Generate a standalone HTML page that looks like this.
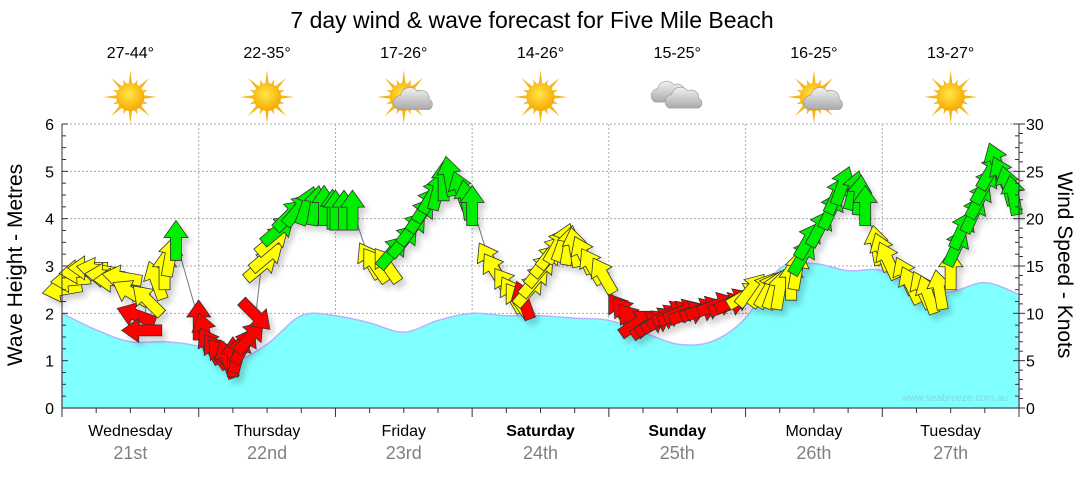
<!DOCTYPE html>
<html><head><meta charset="utf-8">
<style>
html,body{margin:0;padding:0;background:#fff;}
body{width:1080px;height:475px;overflow:hidden;font-family:"Liberation Sans",sans-serif;}
svg text{font-family:"Liberation Sans",sans-serif;}
</style></head>
<body>
<svg id="chart" width="1080" height="475" viewBox="0 0 1080 475">
<defs>
<radialGradient id="sunG" cx="45%" cy="40%" r="60%"><stop offset="0" stop-color="#ffe84a"/><stop offset="1" stop-color="#f7a800"/></radialGradient>
<linearGradient id="cloudG" x1="0" y1="0" x2="0" y2="1"><stop offset="0" stop-color="#f2f2f2"/><stop offset="1" stop-color="#a9a9a9"/></linearGradient>
<filter id="shd" x="-50%" y="-50%" width="200%" height="200%"><feGaussianBlur in="SourceAlpha" stdDeviation="3"/><feOffset dx="4" dy="5"/><feComponentTransfer><feFuncA type="linear" slope="0.18"/></feComponentTransfer><feMerge><feMergeNode/><feMergeNode in="SourceGraphic"/></feMerge></filter>
</defs>
<text x="532" y="28" font-size="23" text-anchor="middle" fill="#000">7 day wind &amp; wave forecast for Five Mile Beach</text>
<g id="grid"></g>
<g id="wave"></g>
<g id="wind"></g>
<g id="axes"></g>
<g id="weather"></g>
<text x="955" y="401" font-size="10" fill="#7fd8e0" text-anchor="middle">www.seabreeze.com.au</text>
<text transform="translate(22,265) rotate(-90)" font-size="21" text-anchor="middle">Wave Height - Metres</text>
<text transform="translate(1058,265) rotate(90)" font-size="21" text-anchor="middle">Wind Speed - Knots</text>
</svg>
<script>
const days = ["Wednesday","Thursday","Friday","Saturday","Sunday","Monday","Tuesday"];
const dates = ["21st","22nd","23rd","24th","25th","26th","27th"];
const boldDays = [false,false,false,true,true,false,false];
const temps = ["27-44°","22-35°","17-26°","14-26°","15-25°","16-25°","13-27°"];
const weather = ["sun","sun","suncloud","sun","cloud","suncloud","sun"];
const waveTicks = [0,1,2,3,4,5,6];
const windTicks = [0,5,10,15,20,25,30];
// wave height (m) every 6 hours
const waveHours = [0,6,12,18,24,30,36,42,48,54,60,66,72,78,84,90,96,102,108,114,120,126,132,138,144,150,156,162,168];
const waveHeight = [2.0,1.65,1.4,1.4,1.3,1.0,1.35,1.95,1.95,1.8,1.6,1.85,2.0,1.95,1.95,1.9,1.85,1.6,1.35,1.4,1.9,2.95,3.05,2.9,2.9,2.5,2.45,2.65,2.4];
// wind
const windHours = [0,1.5,3,4.5,6,7.5,9,10.5,12,13,14,15,16.5,18,19,20,24,25,26,27,28,29,30,31,32,33,34,35,36,37,38,40,41.5,43,44.5,46,47.5,48,49.5,51,54,55,57,58,60,61.5,63,64,65,66,67,68,70,71,72,75,76,78,79,80,81,82,83,84,85,86,87,88,89,90,91.5,93,95,98,99,100,101,103,104,105,106,107,108,109,110,112,113,115,117,118,120,121,123,124,125,126,128,129,130,131,133,135,136,137,139,140,141,143,144,145,148,149,151,152,154,156,157,158,160,161,162,163,164,165,166,167];
const windSpeed = [12.5,13.5,14.4,14.8,14.6,14.0,13.5,13.8,12.2,9.8,8.2,11.4,13.5,14.6,16.0,17.7,9.3,8.0,6.6,6.0,5.6,5.2,5.4,5.8,6.6,7.5,9.8,15.0,16.0,17.7,18.8,20.4,21.0,21.4,21.4,21.4,21.0,20.9,20.9,20.9,15.6,15.1,15.1,16.5,17.7,19.0,20.4,21.5,22.5,23.0,24.0,24.5,23.0,22.0,21.4,15.6,14.5,13.0,12.0,11.4,11.4,12.5,13.5,14.6,15.6,16.5,17.2,17.5,17.2,17.0,16.2,15.0,14.0,10.3,10.0,9.3,9.0,8.8,9.0,9.3,9.6,10.0,10.0,10.2,10.0,10.3,10.5,10.9,10.9,11.3,11.9,12.5,12.5,12.5,12.5,12.5,13.5,14.6,16.0,17.7,19.0,20.9,22.5,23.5,23.0,22.5,21.4,17.2,16.5,15.6,14.0,13.0,12.5,12.0,12.5,14.6,17.0,18.8,20.5,22.0,23.5,25.0,26.0,24.6,23.5,22.5,22.0];
const windDir = [-100,-95,-95,-90,-80,-85,-90,-80,-60,-70,-90,-45,-20,0,10,0,0,-15,-30,-35,-40,-20,0,15,30,40,135,50,50,50,50,45,40,20,10,0,0,0,0,0,-30,-35,-35,40,40,38,35,32,30,15,0,-10,-20,-10,0,-30,-32,-35,-30,-35,-20,40,40,40,40,38,30,20,10,-10,-25,-30,-30,-35,-40,-40,55,55,60,60,62,65,65,68,70,70,70,70,70,65,60,40,35,30,20,10,0,10,30,30,28,25,25,20,15,5,0,-10,-20,-25,-25,-25,-25,-20,-10,0,25,25,25,28,30,30,-20,-25,-15,-10,0];
const windCol = ["y","y","y","y","y","y","y","y","y","r","r","y","y","y","y","g","r","r","r","r","r","r","r","r","r","r","r","y","y","y","g","g","g","g","g","g","g","g","g","g","y","y","y","g","g","g","g","g","g","g","g","g","g","g","g","y","y","y","y","y","r","y","y","y","y","y","y","y","y","y","y","y","y","r","r","r","r","r","r","r","r","r","r","r","r","r","r","r","r","r","y","y","y","y","y","y","y","y","g","g","g","g","g","g","g","g","g","y","y","y","y","y","y","y","y","y","g","g","g","g","g","g","g","g","g","g","g"];
</script>
<script>
const NS="http://www.w3.org/2000/svg";
const X0=62,X1=1019,Y0=408,Y1=124;
const xH=h=>X0+(X1-X0)*h/168;
const yW=m=>Y0-(Y0-Y1)*m/6;
const yK=k=>Y0-(Y0-Y1)*k/30;
function mk(tag,attrs,parent){const e=document.createElementNS(NS,tag);for(const k in attrs)e.setAttribute(k,attrs[k]);parent.appendChild(e);return e;}
const grid=document.getElementById('grid'),axes=document.getElementById('axes');
waveTicks.forEach((t,i)=>{
  if(t>0){const l=mk('line',{x1:X0,x2:X1,y1:yW(t),y2:yW(t),stroke:'#aaa','stroke-dasharray':'2,2'},grid);
  
  }
  const tx=mk('text',{x:X0-8,y:yW(t)+6,'font-size':16,'text-anchor':'end'},axes);tx.textContent=t;
  
  
});
windTicks.forEach(t=>{
  const tx=mk('text',{x:X1+7,y:yK(t)+6,'font-size':16},axes);tx.textContent=t;
  
  
});
for(let i=0;i<=24;i++){const y=Y0-(Y0-Y1)*i/24;const w=(i%4==0)?6:4;
  mk('line',{x1:X0,x2:X0+w,y1:y,y2:y,stroke:'#333'},axes);
  mk('line',{x1:X1-w,x2:X1,y1:y,y2:y,stroke:'#333'},axes);}
for(let i=0;i<=30;i++){const y=yK(i);const w=(i%5==0)?6:4;mk('line',{x1:X1,x2:X1+w,y1:y,y2:y,stroke:'#333'},axes);}
mk('line',{x1:X0,x2:X0,y1:Y1,y2:Y0,stroke:'#333'},axes);
mk('line',{x1:X1,x2:X1,y1:Y1,y2:Y0,stroke:'#333'},axes);
for(let d=0;d<7;d++){
  if(d>0){const l=mk('line',{x1:xH(d*24),x2:xH(d*24),y1:Y1,y2:Y0,stroke:'#aaa','stroke-dasharray':'2,2'},grid);
  
  }
  for(let q=0;q<4;q++){const x=xH(d*24+q*6);mk('line',{x1:x,x2:x,y1:Y0,y2:Y0+(q==0?9:5),stroke:'#333'},axes);}
  const cx=xH(d*24+12);
  const t1=mk('text',{x:cx,y:436,'font-size':16,'text-anchor':'middle','font-weight':boldDays[d]?'bold':'normal'},axes);t1.textContent=days[d];
  
  
  const t2=mk('text',{x:cx,y:459,'font-size':18,'text-anchor':'middle',fill:'#808080'},axes);t2.textContent=dates[d];
  
  
  const t3=mk('text',{x:cx,y:58,'font-size':16,'text-anchor':'middle'},document.getElementById('weather'));t3.textContent=temps[d];
  
  
  drawIcon(weather[d],cx,97);
}
mk('line',{x1:X0,x2:X1,y1:Y0,y2:Y0,stroke:'#333'},axes);
mk('line',{x1:X1,x2:X1,y1:Y0,y2:Y0+9,stroke:'#333'},axes);
function drawIcon(kind,cx,cy){
  const g=mk('g',{},document.getElementById('weather'));
  
  
  if(kind!=='cloud'){
    for(let a=0;a<16;a++){const ang=a*Math.PI/8;const r=a%2?19:27;
      const p=[[cx+Math.cos(ang)*r,cy+Math.sin(ang)*r],[cx+Math.cos(ang+0.16)*12,cy+Math.sin(ang+0.16)*12],[cx+Math.cos(ang-0.16)*12,cy+Math.sin(ang-0.16)*12]];
      mk('polygon',{points:p.map(v=>v.join(',')).join(' '),fill:'#f5b51c'},g);}
    mk('circle',{cx:cx,cy:cy,r:14,fill:'url(#sunG)'},g);
  }
  if(kind==='suncloud'){cloud(g,cx+10,cy+4,0.95);}
  if(kind==='cloud'){cloud(g,cx-7,cy-3,0.9);cloud(g,cx+7,cy+3,0.9);}
}
function cloud(g,x,y,s){
  const p=`M${x-17*s},${y+9*s} a${8*s},${8*s} 0 0 1 ${3*s},${-15*s} a${10*s},${10*s} 0 0 1 ${18*s},${-4*s} a${8*s},${8*s} 0 0 1 ${12*s},${8*s} a${6*s},${6*s} 0 0 1 ${0},${11*s} z`;
  mk('path',{d:p,fill:'url(#cloudG)',stroke:'#999','stroke-width':0.6},g);
}
// wave (smooth)
const pts=waveHours.map((h,i)=>[xH(h),yW(waveHeight[i])]);
let d=`M${pts[0][0]},${Y0} L${pts[0][0]},${pts[0][1]}`;
for(let i=0;i<pts.length-1;i++){
  const p0=pts[Math.max(0,i-1)],p1=pts[i],p2=pts[i+1],p3=pts[Math.min(pts.length-1,i+2)];
  const c1=[p1[0]+(p2[0]-p0[0])/6,p1[1]+(p2[1]-p0[1])/6],c2=[p2[0]-(p3[0]-p1[0])/6,p2[1]-(p3[1]-p1[1])/6];
  d+=` C${c1[0]},${c1[1]} ${c2[0]},${c2[1]} ${p2[0]},${p2[1]}`;
}
d+=` L${pts[pts.length-1][0]},${Y0} Z`;
const wa=mk('path',{d:d,fill:'#80ffff',stroke:'#b5b5ff','stroke-width':1.5,'stroke-linejoin':'round'},document.getElementById('wave'));


// wind
const wg=document.getElementById('wind');
let ld='';
windHours.forEach((h,i)=>{ld+=(i?' L':'M')+xH(h)+','+yK(windSpeed[i]);});
mk('path',{d:ld,fill:'none',stroke:'#777','stroke-width':1},wg);
const cols={r:'#ff0000',y:'#ffff00',g:'#00ee00'};
const ag=mk('g',{filter:'url(#shd)'},wg);
windHours.forEach((h,i)=>{
  const x=xH(h),y=yK(windSpeed[i]);
  const a=mk('polygon',{points:'0,-20 12,-3 5.5,-3 5.5,20 -5.5,20 -5.5,-3 -12,-3',fill:cols[windCol[i]],stroke:'#333','stroke-width':0.8,'stroke-linejoin':'miter',transform:`translate(${x},${y}) rotate(${windDir[i]})`},ag);
  
  
});
</script>
</body></html>
